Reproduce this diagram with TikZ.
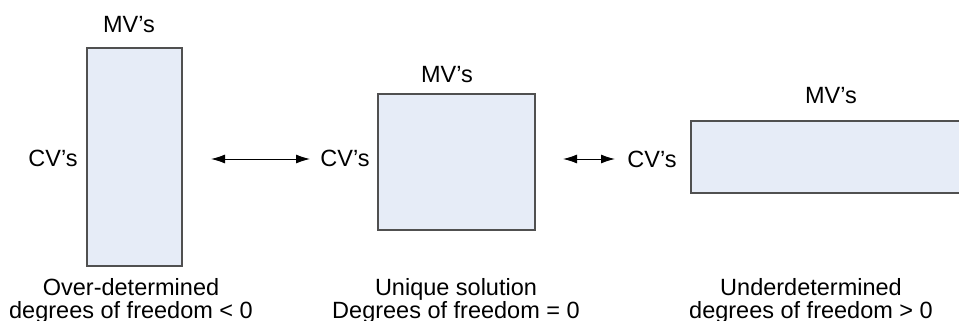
\documentclass[tikz,border=0pt]{standalone}
\usepackage{fontspec}
\setmainfont{Liberation Sans}
\usetikzlibrary{arrows.meta}
\definecolor{boxfill}{HTML}{E6ECF7}
\definecolor{boxline}{HTML}{505050}
\begin{document}
\begin{tikzpicture}[x=1pt,y=-1pt,
  every node/.style={inner sep=0pt, font=\fontsize{23.5}{20}\selectfont},
  lbl/.style={anchor=base},
  matbox/.style={draw=boxline, fill=boxfill, line width=1.2pt},
  dual/.style={{Latex[length=14pt,width=9pt]}-{Latex[length=14pt,width=9pt]}, line width=1pt}]
\useasboundingbox (0,0) rectangle (959,321);
\clip (0,0) rectangle (959,321);

% matrices of different shapes
\node[matbox, minimum width=95pt,  minimum height=218pt] (tall)  at (134.5,157) {};
\node[matbox, minimum width=157pt, minimum height=136pt] (square) at (456.5,162) {};
\node[matbox, minimum width=294pt, minimum height=72pt]  (wide)  at (838,157) {};

% axis labels
\node[lbl] (mv1) at (129,33)  {MV’s};
\node[lbl] (cv1) at (53,166)  {CV’s};
\node[lbl] (mv2) at (447,82)  {MV’s};
\node[lbl] (cv2) at (345,166) {CV’s};
\node[lbl] (mv3) at (831,103) {MV’s};
\node[lbl] (cv3) at (652,167) {CV’s};

% captions
\node[lbl] (c1a) at (131,295) {Over-determined};
\node[lbl] (c1b) at (131,318) {degrees of freedom < 0};
\node[lbl] (c2a) at (456,295) {Unique solution};
\node[lbl] (c2b) at (456,318) {Degrees of freedom = 0};
\node[lbl] (c3a) at (811,295) {Underdetermined};
\node[lbl] (c3b) at (811,318) {degrees of freedom > 0};

% double-headed arrows
\coordinate (a1s) at (211,159);
\coordinate (a1e) at (310,159);
\coordinate (a2s) at (563,159);
\coordinate (a2e) at (615,159);
\draw[dual] (a1s) -- (a1e);
\draw[dual] (a2s) -- (a2e);
\end{tikzpicture}
\end{document}
